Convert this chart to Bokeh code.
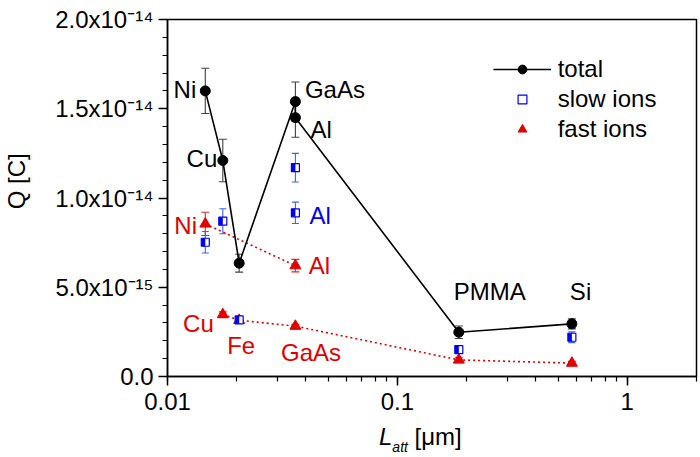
import math
from bokeh.plotting import figure
from bokeh.layouts import column
from bokeh.models import (Range1d, FixedTicker, LogTicker, ColumnDataSource, Whisker,
                          TeeHead, Legend, LegendItem, Div)
from bokeh.core.properties import value
from bokeh.embed import file_html
from bokeh.resources import INLINE

# ---------------- data ----------------
materials = ["Ni", "Cu", "Fe", "GaAs", "Al", "PMMA", "Si"]
l_att = [0.0146, 0.0174, 0.0205, 0.036, 0.036, 0.185, 0.574]          # µm
q_total = [1.60e-14, 1.21e-14, 6.35e-15, 1.54e-14, 1.45e-14, 2.48e-15, 2.95e-15]
q_total_err = [1.27e-15, 1.19e-15, 5.0e-16, 1.1e-15, 1.1e-15, 3.5e-16, 2.8e-16]
q_slow = [7.52e-15, 8.70e-15, 3.17e-15, 1.17e-14, 9.17e-15, 1.51e-15, 2.20e-15]
q_slow_err = [6.0e-16, 7.0e-16, 1.5e-16, 8.0e-16, 6.0e-16, 1.5e-16, 3.0e-16]
q_fast = [8.55e-15, 3.47e-15, 3.15e-15, 2.82e-15, 6.21e-15, 9.3e-16, 7.5e-16]
q_fast_err = [6.5e-16, 1.5e-16, 1.2e-16, 1.0e-16, 3.5e-16, 1.5e-16, 1.0e-16]

fast_group_a = [0, 4]            # Ni -> Al
fast_group_b = [1, 2, 3, 5, 6]   # Cu -> Fe -> GaAs -> PMMA -> Si

y_ticks = [0.0, 5e-15, 1e-14, 1.5e-14, 2e-14]
y_tick_labels = ["0.0", "5.0x10\u207b\u00b9\u2075", "1.0x10\u207b\u00b9\u2074",
                 "1.5x10\u207b\u00b9\u2074", "2.0x10\u207b\u00b9\u2074"]
x_ticks = [0.01, 0.1, 1]
x_tick_labels = ["0.01", "0.1", "1"]

total_label_idx = [0, 1, 3, 4, 5, 6]
fast_label_idx = [0, 1, 2, 3, 4]
slow_label_idx = [4]

# ---------------- style ----------------
FONT = "Liberation Sans"
FS = "24px"
BLACK = "#000000"
RED = "#e00000"
BLUE = "#0000f0"
X0, X1 = 0.01, 2.0
Y0, Y1 = 0.0, 2e-14
W, H = 700, 418
ML, MR, MT, MB = 161, 4, 19, 42

p = figure(width=W, height=H, x_axis_type="log", output_backend="svg",
           toolbar_location=None, x_range=Range1d(X0, X1), y_range=Range1d(Y0, Y1),
           min_border_left=ML, min_border_right=MR, min_border_top=MT, min_border_bottom=MB)
p.grid.visible = False
p.background_fill_color = "white"
p.border_fill_color = "white"
p.outline_line_color = BLACK
p.outline_line_width = 1.5

for ax in (p.xaxis[0], p.yaxis[0]):
    ax.axis_line_width = 1.5
    ax.major_tick_line_width = 1.5
    ax.minor_tick_line_width = 1.2
    ax.major_tick_in = 0
    ax.major_tick_out = 9
    ax.minor_tick_in = 0
    ax.minor_tick_out = 5
    ax.major_label_text_font = FONT
    ax.major_label_text_font_size = FS
    ax.major_label_text_color = BLACK

p.xaxis[0].major_label_standoff = 7
p.yaxis[0].major_label_standoff = 5
p.yaxis[0].ticker = FixedTicker(ticks=y_ticks,
                                minor_ticks=[i * 1e-15 for i in range(0, 21)])
p.yaxis[0].major_label_overrides = {t: l for t, l in zip(y_ticks, y_tick_labels)}
p.yaxis[0].axis_label = "\u00a0" * 5 + "Q [C]"
p.yaxis[0].axis_label_text_font = FONT
p.yaxis[0].axis_label_text_font_size = FS
p.yaxis[0].axis_label_text_font_style = "normal"
p.yaxis[0].axis_label_text_color = BLACK
p.yaxis[0].axis_label_standoff = 22
p.xaxis[0].ticker = LogTicker(num_minor_ticks=10)
p.xaxis[0].major_label_overrides = {t: l for t, l in zip(x_ticks, x_tick_labels)}

# ---------------- sources ----------------
def src(yv, err, idx=None):
    idx = list(range(len(l_att))) if idx is None else idx
    return ColumnDataSource(dict(
        x=[l_att[i] for i in idx], y=[yv[i] for i in idx],
        up=[yv[i] + err[i] for i in idx], lo=[yv[i] - err[i] for i in idx]))

s_total = src(q_total, q_total_err)
s_slow = src(q_slow, q_slow_err)
s_fast = src(q_fast, q_fast_err)
s_fast_a = src(q_fast, q_fast_err, fast_group_a)
s_fast_b = src(q_fast, q_fast_err, fast_group_b)

def whisk(s, color, head=8):
    w = Whisker(base="x", upper="up", lower="lo", source=s, line_color=color,
                line_width=1.1,
                upper_head=TeeHead(size=head, line_color=color, line_width=1.1),
                lower_head=TeeHead(size=head, line_color=color, line_width=1.1))
    p.add_layout(w)

# fast ions
p.line("x", "y", source=s_fast_a, line_color=RED, line_width=1.6, line_dash="2 3")
p.line("x", "y", source=s_fast_b, line_color=RED, line_width=1.6, line_dash="2 3")
whisk(s_fast, "#d03030")
r_fast = p.scatter("x", "y", source=s_fast, marker="triangle", size=11,
                   fill_color=RED, line_color=RED)

# slow ions (half filled squares)
whisk(s_slow, "#4060f0", head=7)
r_slow = p.scatter("x", "y", source=s_slow, marker="square", size=8,
                   fill_color="white", line_color=BLUE, line_width=1.2)
frame_w = W - ML - MR
dec_per_px = math.log10(X1 / X0) / frame_w
s_half = ColumnDataSource(dict(x=[v * 10 ** (-2 * dec_per_px) for v in l_att], y=q_slow))
p.rect("x", "y", source=s_half, width=4, height=8, width_units="screen",
       height_units="screen", fill_color=BLUE, line_color=None)

# total
r_tline = p.line("x", "y", source=s_total, line_color=BLACK, line_width=1.6)
whisk(s_total, "#404040")
r_total = p.scatter("x", "y", source=s_total, marker="circle", size=10,
                    fill_color=BLACK, line_color=BLACK)

# ---------------- point labels ----------------
total_off = [("right", -9, -1), ("right", -5.5, -2), ("left", 9.5, -12),
             ("left", 15, 11.5), ("left", -5, -41), ("left", -2, -32)]
fast_off = [("right", -8.3, 2), ("right", -9, 9), ("center", 2, 25.5),
            ("center", 15.7, 26.5), ("left", 13.3, 0)]
slow_off = [("left", 14, 3)]

def put_labels(idx_list, yv, offs, color):
    for i, (al, dx, dy) in zip(idx_list, offs):
        p.text(x=[l_att[i]], y=[yv[i]], text=[materials[i]], x_offset=dx, y_offset=dy,
               text_align=al, text_baseline="middle", text_color=color,
               text_font=value(FONT), text_font_size=FS)

put_labels(total_label_idx, q_total, total_off, BLACK)
put_labels(fast_label_idx, q_fast, fast_off, RED)
put_labels(slow_label_idx, q_slow, slow_off, BLUE)

# ---------------- legend ----------------
legend = Legend(items=[LegendItem(label="total", renderers=[r_tline, r_total]),
                       LegendItem(label="slow ions", renderers=[r_slow]),
                       LegendItem(label="fast ions", renderers=[r_fast])],
                location=(325.7, 233.0), orientation="vertical",
                glyph_width=58, glyph_height=22, label_height=22, label_standoff=7,
                spacing=2, padding=0, margin=0,
                border_line_alpha=0, background_fill_alpha=0,
                label_text_font=FONT, label_text_font_size=FS, label_text_color=BLACK)
p.add_layout(legend, "center")

# ---------------- x axis title (mixed italic / subscript) ----------------
xlabel_html = ('<div style="font-family:\'Liberation Sans\',Arial,sans-serif;'
               'font-size:24px;line-height:24px;padding-left:379px;padding-top:7px;'
               'color:#000;white-space:nowrap;">'
               '<i>L</i><span style="font-size:14px;font-style:italic;'
               'position:relative;top:7px;">att</span> [\u03bcm]</div>')
xlabel = Div(text=xlabel_html, width=W, height=39, margin=0)

layout = column(p, xlabel, spacing=0)
open("out.html", "w").write(file_html(layout, INLINE))
